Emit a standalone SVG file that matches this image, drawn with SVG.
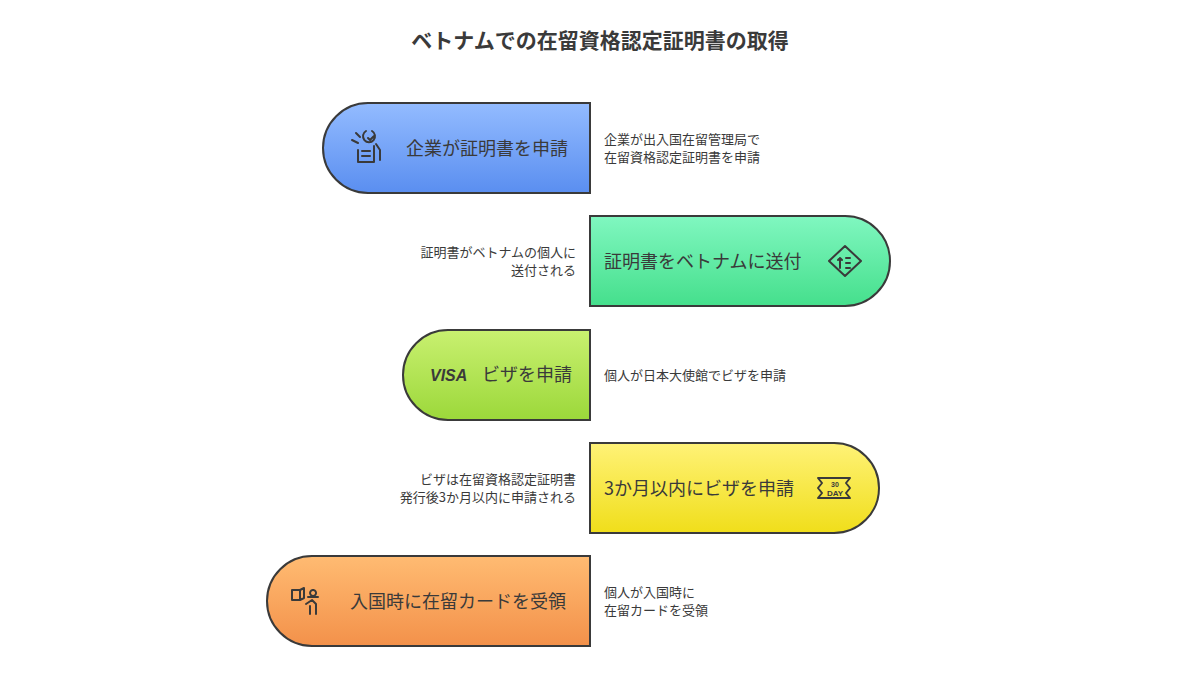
<svg xmlns="http://www.w3.org/2000/svg" width="1200" height="675" viewBox="0 0 1200 675">
<style>
.n{stroke:#3a3a3a;stroke-width:2}
.t{font-family:"Noto Sans CJK JP","Noto Sans",sans-serif;fill:#3a3a3a;font-size:18px}
.d{font-family:"Noto Sans CJK JP","Noto Sans",sans-serif;fill:#3a3a3a;font-size:13px}
.i{fill:none;stroke:#3a3a3a;stroke-width:2;stroke-linecap:round;stroke-linejoin:round}
</style>
<defs>
<linearGradient id="gb" x1="0" y1="0" x2="0" y2="1"><stop offset="0" stop-color="#93bbff"/><stop offset="1" stop-color="#5a8ef0"/></linearGradient>
<linearGradient id="gg" x1="0" y1="0" x2="0" y2="1"><stop offset="0" stop-color="#80f7c0"/><stop offset="1" stop-color="#45df8c"/></linearGradient>
<linearGradient id="gl" x1="0" y1="0" x2="0" y2="1"><stop offset="0" stop-color="#c9f070"/><stop offset="1" stop-color="#9cd83a"/></linearGradient>
<linearGradient id="gy" x1="0" y1="0" x2="0" y2="1"><stop offset="0" stop-color="#fff277"/><stop offset="1" stop-color="#f0de1a"/></linearGradient>
<linearGradient id="go" x1="0" y1="0" x2="0" y2="1"><stop offset="0" stop-color="#ffbb72"/><stop offset="1" stop-color="#f3914a"/></linearGradient>
</defs>
<rect width="1200" height="675" fill="#fff"/>
<text x="600" y="48" text-anchor="middle" font-family="'Noto Sans CJK JP',sans-serif" font-size="21" font-weight="bold" fill="#3a3a3a">ベトナムでの在留資格認定証明書の取得</text>
<g id="connectors"></g>
<g id="node1">
<path class="n" fill="url(#gb)" d="M590 103 V193 H368 A45 45 0 0 1 368 103 Z"/>
<g class="i"><path d="M356 133 l4 4 M352 140 l6 3 M358 150 v12 h16 v-16 M362 151 h8 M362 156 h8 M366 131 a6 6 0 1 0 6 0 M368 138 l2 2 l4 -4 M376 144 l4 6 v10"/></g>
<text class="t" x="406" y="155">企業が証明書を申請</text>
<text class="d" x="604" y="144">企業が出入国在留管理局で</text>
<text class="d" x="604" y="162">在留資格認定証明書を申請</text>
</g>
<g id="node2">
<path class="n" fill="url(#gg)" d="M590 216 H845 A45 45 0 0 1 845 306 H590 Z"/>
<g class="i"><path d="M845 246 l16 15 l-16 15 l-16 -15 Z M840 268 v-10 l-2 2 M840 258 l2 2 M846 258 h4 M846 263 h4 M846 268 h4"/></g>
<text class="t" x="604" y="268">証明書をベトナムに送付</text>
<text class="d" x="576" y="257" text-anchor="end">証明書がベトナムの個人に</text>
<text class="d" x="576" y="275" text-anchor="end">送付される</text>
</g>
<g id="node3">
<path class="n" fill="url(#gl)" d="M590 330 V420 H448 A45 45 0 0 1 448 330 Z"/>
<text x="430" y="381" font-family="'Liberation Sans',sans-serif" font-style="italic" font-weight="bold" font-size="16" fill="#3a3a3a">VISA</text>
<text class="t" x="482" y="381">ビザを申請</text>
<text class="d" x="604" y="380">個人が日本大使館でビザを申請</text>
</g>
<g id="node4">
<path class="n" fill="url(#gy)" d="M590 443 H834 A45 45 0 0 1 834 533 H590 Z"/>
<g class="i" stroke-width="1.8"><path d="M818 478 h32 l-4 5 l4 5 l-4 5 l4 5 h-32 l4 -5 l-4 -5 l4 -5 Z"/></g>
<text x="835" y="487" text-anchor="middle" font-family="'Liberation Sans',sans-serif" font-weight="bold" font-size="7" fill="#3a3a3a">30</text>
<text x="835" y="496" text-anchor="middle" font-family="'Liberation Sans',sans-serif" font-weight="bold" font-size="8" fill="#3a3a3a">DAY</text>
<text class="t" x="604" y="495">3か月以内にビザを申請</text>
<text class="d" x="576" y="484" text-anchor="end">ビザは在留資格認定証明書</text>
<text class="d" x="576" y="502" text-anchor="end">発行後3か月以内に申請される</text>
</g>
<g id="node5">
<path class="n" fill="url(#go)" d="M590 556 V646 H312 A45 45 0 0 1 312 556 Z"/>
<g class="i"><path d="M292 590 h8 v10 h-8 Z M300 590 l4 -2 v10 l-4 2 M313 590 a3 3 0 1 0 0.1 0 M308 597 h10 M306 604 l6 -4 l4 4 v10 M310 606 v8"/></g>
<text class="t" x="350" y="608">入国時に在留カードを受領</text>
<text class="d" x="604" y="597">個人が入国時に</text>
<text class="d" x="604" y="615">在留カードを受領</text>
</g>
</svg>
